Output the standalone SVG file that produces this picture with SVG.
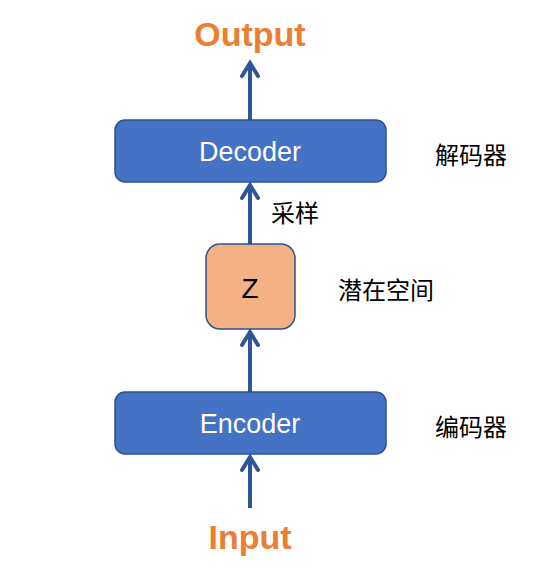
<svg xmlns="http://www.w3.org/2000/svg" width="551" height="575" viewBox="0 0 551 575">
<style>
.box{fill:#4472C4;stroke:#2F528F;stroke-width:1.5}
.z{fill:#F4B183;stroke:#2F528F;stroke-width:1.5}
.arr{stroke:#2F5597;stroke-width:4;fill:none}
.head{stroke:#2F5597;stroke-width:4;fill:none;stroke-linecap:round;stroke-linejoin:miter}
.io{font-family:"Liberation Sans",Arial,sans-serif;font-weight:bold;font-size:34px;fill:#ED7D31;text-anchor:middle}
.wt{font-family:"Liberation Sans",Arial,sans-serif;font-size:27px;fill:#fff;text-anchor:middle}
.cn{font-family:"Noto Sans CJK SC","Liberation Sans",sans-serif;font-size:24px;fill:#000}
</style>
<rect width="551" height="575" fill="#fff"/>
<g id="connectors">
<line class="arr" x1="250" y1="120" x2="250" y2="63"/>
<polyline class="head" points="242,76 250,63 258,76"/>
<line class="arr" x1="250" y1="244" x2="250" y2="185"/>
<polyline class="head" points="242,198 250,185 258,198"/>
<line class="arr" x1="250" y1="392" x2="250" y2="332"/>
<polyline class="head" points="242,345 250,332 258,345"/>
<line class="arr" x1="250" y1="508" x2="250" y2="457"/>
<polyline class="head" points="242,470 250,457 258,470"/>
</g>
<g id="output"><text class="io" x="250" y="46">Output</text></g>
<g id="decoder"><rect class="box" x="115" y="120" width="271" height="62" rx="10"/><text class="wt" x="250" y="161">Decoder</text></g>
<g id="z"><rect class="z" x="206" y="244" width="89" height="85" rx="14"/><text x="250" y="298" font-family="Liberation Sans,Arial,sans-serif" font-size="28" text-anchor="middle" fill="#000">Z</text></g>
<g id="encoder"><rect class="box" x="115" y="392" width="271" height="62" rx="10"/><text class="wt" x="250" y="433">Encoder</text></g>
<g id="input"><text class="io" x="250" y="549">Input</text></g>
<g id="labels">
<text class="cn" x="435" y="164">解码器</text>
<text class="cn" x="271" y="222" font-size="18">采样</text>
<text class="cn" x="338" y="299">潜在空间</text>
<text class="cn" x="435" y="436">编码器</text>
</g>
</svg>
